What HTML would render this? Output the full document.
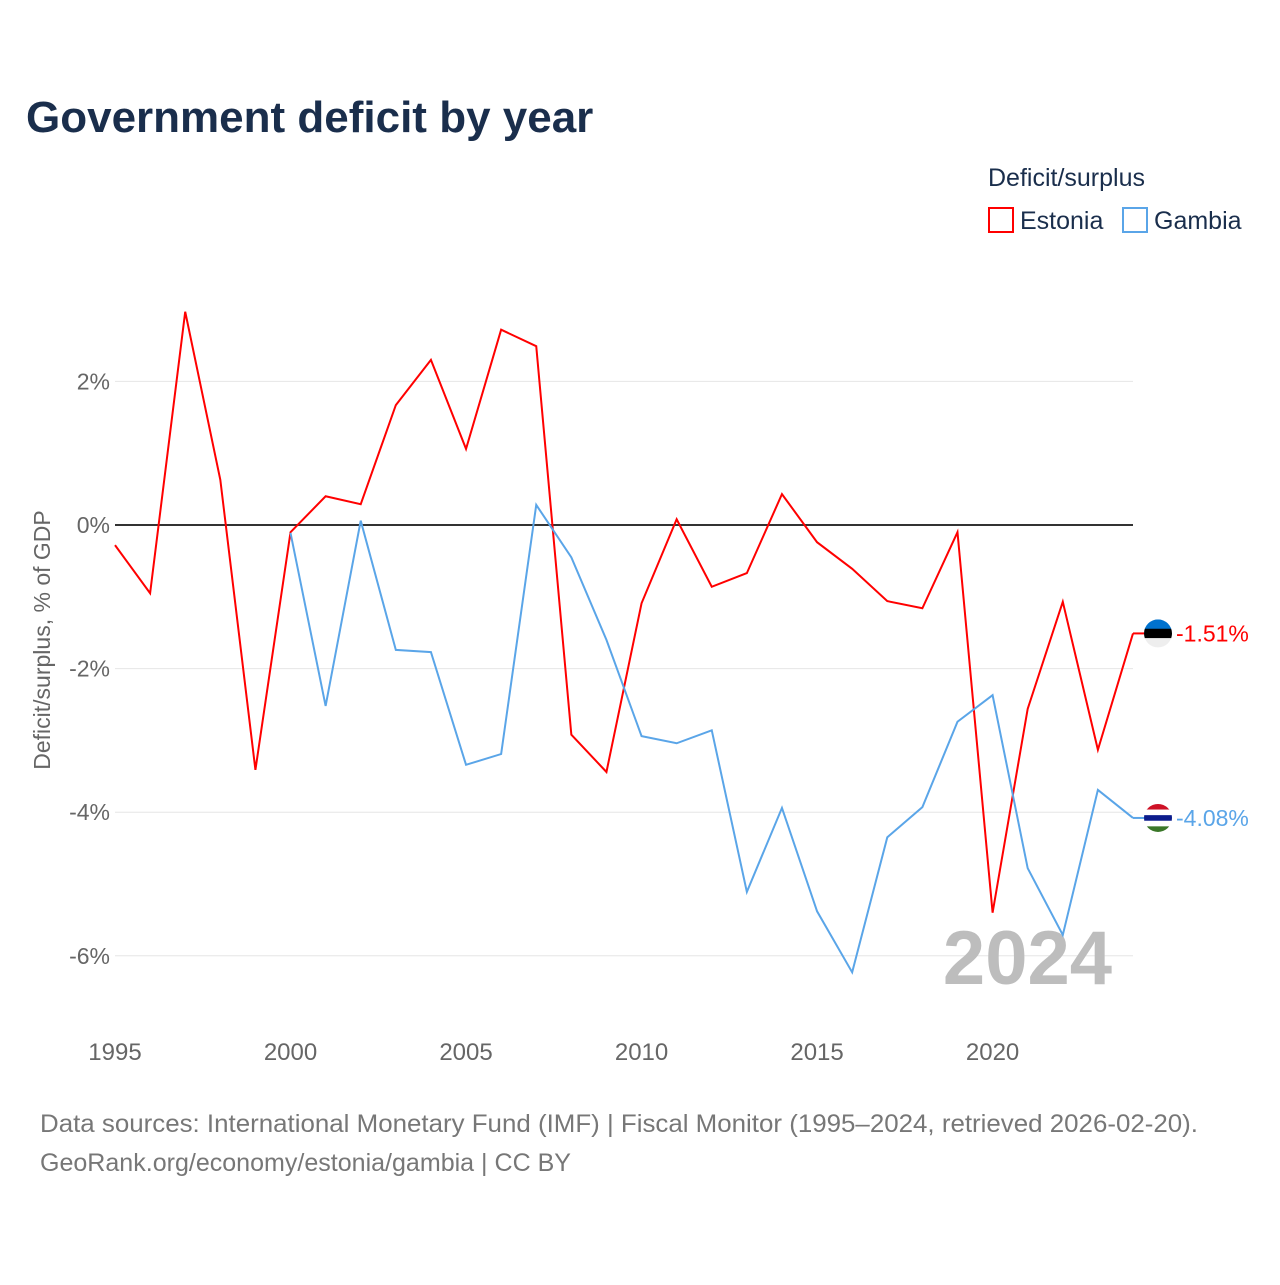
<!DOCTYPE html>
<html><head><meta charset="utf-8"><style>
body{margin:0;background:#fff;font-family:"Liberation Sans",sans-serif;}
#wrap{position:relative;width:1280px;height:1280px;}
</style></head><body>
<div id="wrap">
<svg id="chart" width="1280" height="1280"></svg>
</div>
<script>
const years=[1995,1996,1997,1998,1999,2000,2001,2002,2003,2004,2005,2006,2007,2008,2009,2010,2011,2012,2013,2014,2015,2016,2017,2018,2019,2020,2021,2022,2023,2024];
const estonia=[-0.28,-0.95,2.97,0.63,-3.41,-0.1,0.40,0.29,1.67,2.30,1.06,2.72,2.49,-2.92,-3.44,-1.09,0.08,-0.86,-0.67,0.43,-0.24,-0.61,-1.06,-1.16,-0.1,-5.40,-2.56,-1.07,-3.13,-1.51];
const gambiaYears=[2000,2001,2002,2003,2004,2005,2006,2007,2008,2009,2010,2011,2012,2013,2014,2015,2016,2017,2018,2019,2020,2021,2022,2023,2024];
const gambia=[-0.11,-2.52,0.06,-1.74,-1.77,-3.34,-3.19,0.28,-0.45,-1.60,-2.94,-3.04,-2.86,-5.11,-3.94,-5.38,-6.23,-4.35,-3.93,-2.74,-2.37,-4.78,-5.71,-3.69,-4.08];
const yTicks=[2,0,-2,-4,-6];
const xTicks=[1995,2000,2005,2010,2015,2020];

const NS="http://www.w3.org/2000/svg";
const svg=document.getElementById('chart');
const X=y=>115+(y-1995)*(1133-115)/29;
const Y=v=>525-v*71.8;
function el(tag,attrs,text){const e=document.createElementNS(NS,tag);for(const k in attrs)e.setAttribute(k,attrs[k]);if(text!==undefined)e.textContent=text;svg.appendChild(e);return e;}
const F='"Liberation Sans",sans-serif';

let t=el('text',{x:26,y:132,'font-size':44,'font-weight':'bold',fill:'#1a2e4c','font-family':F},'Government deficit by year');

t=el('text',{x:988,y:186,'font-size':25,fill:'#1a2e4c','font-family':F},'Deficit/surplus');

[[988,'Estonia','#ff0000'],[1122,'Gambia','#5aa5e8']].forEach(([lx,n,c])=>{
 const g=document.createElementNS(NS,'g');svg.appendChild(g);
 
 
 const r=document.createElementNS(NS,'rect');r.setAttribute('x',lx+1);r.setAttribute('y',208);r.setAttribute('width',24);r.setAttribute('height',24);r.setAttribute('fill','none');r.setAttribute('stroke',c);r.setAttribute('stroke-width',2);g.appendChild(r);
 const tx=document.createElementNS(NS,'text');tx.setAttribute('x',lx+32);tx.setAttribute('y',229);tx.setAttribute('font-size',25);tx.setAttribute('fill','#1a2e4c');tx.setAttribute('font-family',F);tx.textContent=n;g.appendChild(tx);
});

yTicks.forEach(v=>{
 const l=el('line',{x1:115,x2:1133,y1:Y(v),y2:Y(v),stroke:v===0?'#333':'#e6e6e6','stroke-width':v===0?2:1});
 
 const tx=el('text',{x:110,y:Y(v)+8,'font-size':23,fill:'#666','text-anchor':'end','font-family':F},v+'%');
 
});
xTicks.forEach(v=>{
 const tx=el('text',{x:X(v),y:1060,'font-size':24,fill:'#666','text-anchor':'middle','font-family':F},String(v));
 
});
t=el('text',{x:0,y:0,'font-size':23,fill:'#666','text-anchor':'middle','font-family':F,transform:'translate(50,640) rotate(-90)'},'Deficit/surplus, % of GDP');

t=el('text',{x:1112,y:984,'font-size':76,'font-weight':'bold',fill:'#bdbdbd','text-anchor':'end','font-family':F},'2024');


function line(xs,vs,c,name){
 const p=el('polyline',{points:xs.map((y,i)=>X(y)+','+Y(vs[i])).join(' '),fill:'none',stroke:c,'stroke-width':2});
 
}
line(years,estonia,'#ff0000','estonia-line');
line(gambiaYears,gambia,'#5aa5e8','gambia-line');

function flag(v,cols,lab,c,name){
 const cx=1158,cy=Y(v),r=14;
 const g=document.createElementNS(NS,'g');svg.appendChild(g);
 
 const cp=document.createElementNS(NS,'clipPath');cp.setAttribute('id','cp'+name);
 const cc=document.createElementNS(NS,'circle');cc.setAttribute('cx',cx);cc.setAttribute('cy',cy);cc.setAttribute('r',r);cp.appendChild(cc);g.appendChild(cp);
 const h=2*r/cols.length;
 cols.forEach((col,i)=>{const rr=document.createElementNS(NS,'rect');rr.setAttribute('x',cx-r);rr.setAttribute('y',cy-r+i*h);rr.setAttribute('width',2*r);rr.setAttribute('height',h+0.5);rr.setAttribute('fill',col);rr.setAttribute('clip-path','url(#cp'+name+')');g.appendChild(rr);});
 const tl=el('line',{x1:1133,x2:1144,y1:cy,y2:cy,stroke:c,'stroke-width':2});
 const tx=el('text',{x:1176,y:cy+8,'font-size':23,fill:c,'font-family':F},lab);
 
}
flag(estonia[estonia.length-1],['#0072ce','#000000','#eeeeee'],estonia[estonia.length-1].toFixed(2)+'%','#ff0000','estonia-flag');
flag(gambia[gambia.length-1],['#ce1126','#ffffff','#0c1c8c','#ffffff','#3a7728'],gambia[gambia.length-1].toFixed(2)+'%','#5aa5e8','gambia-flag');

t=el('text',{x:40,y:1132,'font-size':25,fill:'#777','font-family':F,textLength:1158,lengthAdjust:'spacingAndGlyphs'},'Data sources: International Monetary Fund (IMF) | Fiscal Monitor (1995–2024, retrieved 2026-02-20).');

t=el('text',{x:40,y:1171,'font-size':25,fill:'#777','font-family':F,textLength:531,lengthAdjust:'spacingAndGlyphs'},'GeoRank.org/economy/estonia/gambia | CC BY');

</script>
</body></html>
